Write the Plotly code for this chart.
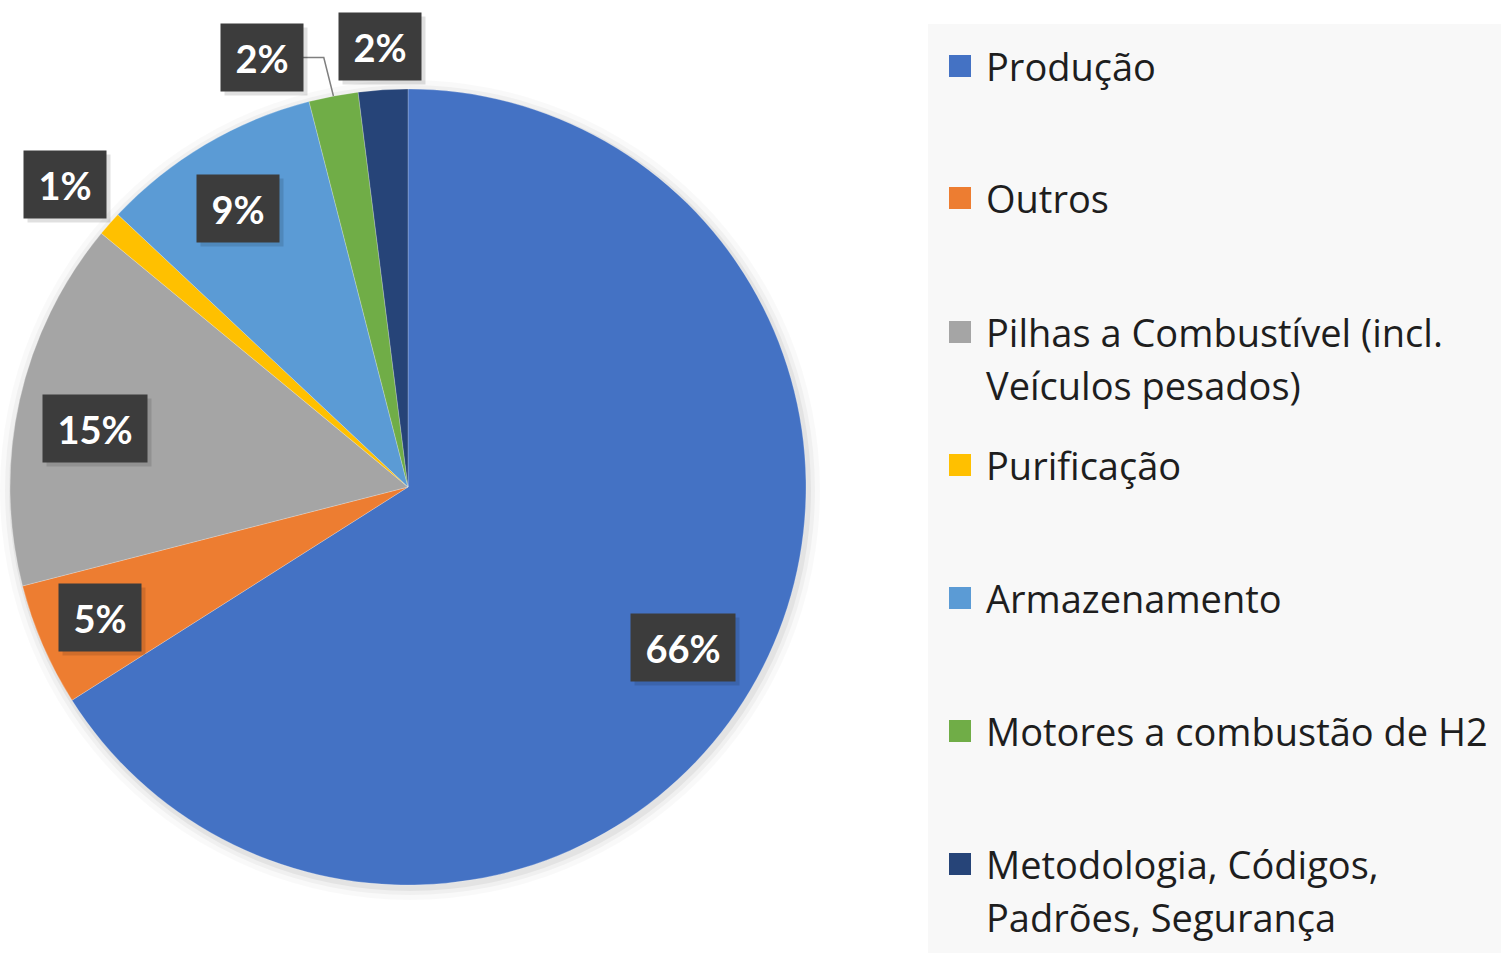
import numpy as np
import plotly.graph_objects as go

# data
labels = ["Produção", "Outros", "Pilhas a Combustível (incl.<br>Veículos pesados)",
          "Purificação", "Armazenamento", "Motores a combustão de H2",
          "Metodologia, Códigos,<br>Padrões, Segurança"]
values = [66, 5, 15, 1, 9, 2, 2]
colors = ["#4472C4", "#ED7D31", "#A5A5A5", "#FFC000", "#5B9BD5", "#70AD47", "#264478"]

# label placement (radius as fraction of pie radius, angle shift in degrees)
label_r = [0.80, 0.84, 0.80, 1.15, 0.82, 1.14, 1.11]
label_shift = [1.5, 0.5, -2.0, 0, -0.7, -8, 0]

W, H = 1501, 953
cx, cy, R = 408, 487, 398

def px2paper(x, y):
    return x / W, 1 - y / H

fig = go.Figure()
d0 = px2paper(cx - R, cy + R)
d1 = px2paper(cx + R, cy - R)
fig.add_trace(go.Pie(
    labels=labels, values=values, sort=False, direction="clockwise", rotation=0,
    marker=dict(colors=colors, line=dict(color="rgba(255,255,255,0.4)", width=0.6)),
    textinfo="none", hoverinfo="skip", showlegend=False,
    domain=dict(x=[d0[0], d1[0]], y=[d0[1], d1[1]]),
))

# faint shadow round the pie
for k, a in [(12, 0.025), (7, 0.035), (3, 0.05)]:
    s0 = px2paper(cx - R - k + 2, cy + R + k + 3)
    s1 = px2paper(cx + R + k + 2, cy - R - k + 3)
    fig.add_shape(type="circle", xref="paper", yref="paper", x0=s0[0], x1=s1[0], y0=s0[1], y1=s1[1],
                  fillcolor=f"rgba(0,0,0,{a})", line=dict(width=0), layer="below")

# legend panel background
b0 = px2paper(928, H)
b1 = px2paper(W, 24)
fig.add_shape(type="rect", xref="paper", yref="paper", x0=b0[0], x1=b1[0], y0=b0[1], y1=b1[1],
              fillcolor="#f8f8f8", line=dict(width=0), layer="below")

# percentage labels in dark boxes
total = sum(values)
cum = np.cumsum([0] + values)
for i, v in enumerate(values):
    mid = (cum[i] + cum[i + 1]) / 2 / total * 360 + label_shift[i]
    t = np.radians(mid)
    lx = cx + label_r[i] * R * np.sin(t)
    ly = cy - label_r[i] * R * np.cos(t)
    txt = f"{v}%"
    bw = 102 if len(txt) > 2 else 80
    if label_r[i] > 1 and abs(label_shift[i]) > 2:
        # leader line from the box to the slice edge
        tm = np.radians((cum[i] + cum[i + 1]) / 2 / total * 360)
        ex, ey = cx + R * np.sin(tm), cy - R * np.cos(tm)
        x1, y1 = lx + bw / 2, ly
        p = [px2paper(x1, y1), px2paper(x1 + 22, y1), px2paper(ex, ey)]
        path = "M {} {} L {} {} L {} {}".format(p[0][0], p[0][1], p[1][0], p[1][1], p[2][0], p[2][1])
        fig.add_shape(type="path", xref="paper", yref="paper", path=path,
                      line=dict(color="#7f7f7f", width=1.5))
    ax, ay = px2paper(lx, ly)
    sx, sy = px2paper(lx + 4, ly + 4)
    fig.add_annotation(x=sx, y=sy, xref="paper", yref="paper", text="", showarrow=False,
                       xanchor="center", yanchor="middle",
                       width=bw, height=65, bgcolor="rgba(0,0,0,0.12)")
    fig.add_annotation(x=ax, y=ay, xref="paper", yref="paper", text=f"<b>{txt}</b>",
                       showarrow=False, xanchor="center", yanchor="middle",
                       width=bw, height=65, bgcolor="#3c3c3c",
                       font=dict(family="Lato", size=38, color="white"))

# legend drawn by hand to match the spacing of the original
row_y = [66, 198, 332, 465, 598, 731, 864]
for i, lab in enumerate(labels):
    y0 = row_y[i]
    sq0 = px2paper(949, y0 + 11)
    sq1 = px2paper(971, y0 - 11)
    fig.add_shape(type="rect", xref="paper", yref="paper", x0=sq0[0], x1=sq1[0], y0=sq0[1], y1=sq1[1],
                  fillcolor=colors[i], line=dict(width=0))
    for j, line in enumerate(lab.split("<br>")):
        tx, ty = px2paper(984, y0 + j * 53)
        fig.add_annotation(x=tx, y=ty, xref="paper", yref="paper", text=line, showarrow=False,
                           xanchor="left", yanchor="middle",
                           font=dict(family="Open Sans", size=38, color="#1e1e1e"))

fig.update_layout(width=W, height=H, margin=dict(l=0, r=0, t=0, b=0),
                  paper_bgcolor="white", plot_bgcolor="white")
fig.write_html("out.html", config={"displayModeBar": False},
               post_script="document.body.style.margin='0';document.body.style.overflow='hidden';")
